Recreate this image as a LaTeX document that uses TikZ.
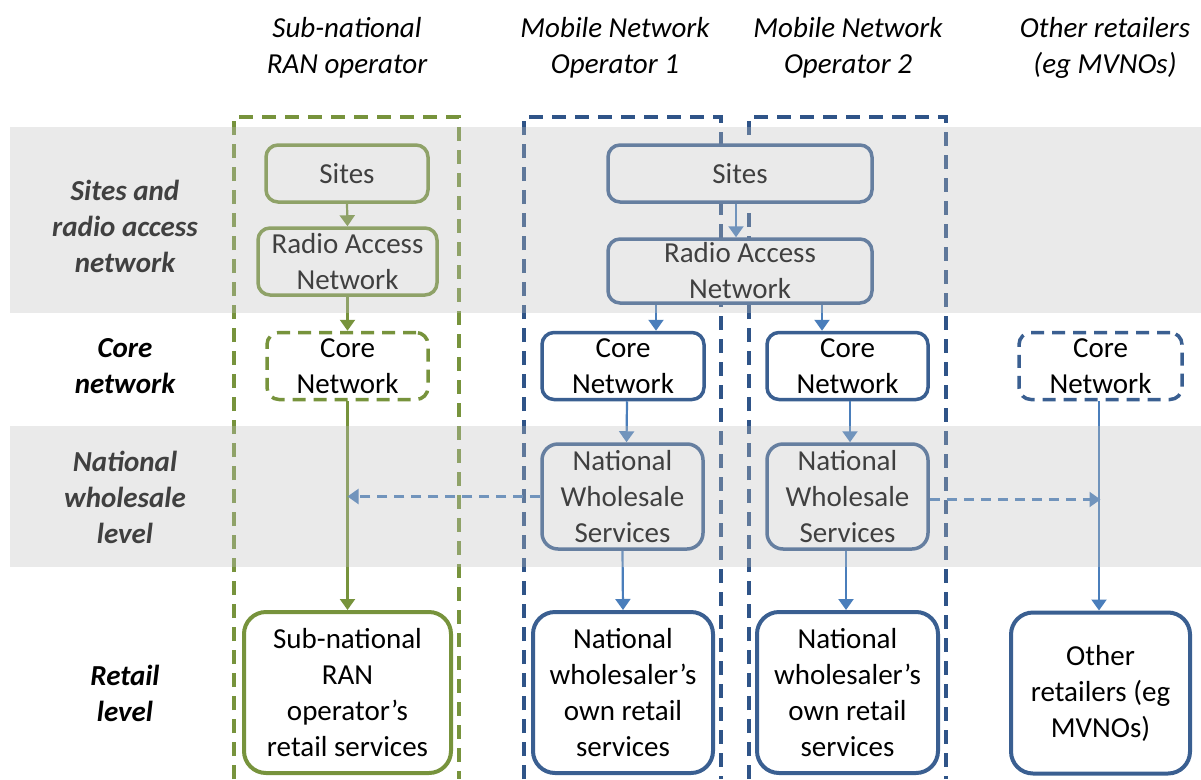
\documentclass[tikz,border=0pt]{standalone}
\usepackage{fontspec}
\setmainfont{Carlito}
\usetikzlibrary{arrows.meta}
\definecolor{grn}{HTML}{77933C}
\definecolor{cblue}{HTML}{2F5488}
\definecolor{bblue}{HTML}{3A5F91}
\definecolor{ablue}{HTML}{4A7EBB}
\definecolor{bandgrey}{RGB}{192,192,192}
\begin{document}
\begin{tikzpicture}[x=1pt,y=-1pt,
  every node/.style={font=\fontsize{29}{36}\selectfont, align=center, inner sep=0pt},
  hdr/.style={font=\fontsize{29}{36}\selectfont\itshape},
  rowlab/.style={font=\fontsize{29}{36}\selectfont\bfseries\itshape},
  coldash/.style={line width=3.5pt, dash pattern=on 14pt off 9pt},
  gbox/.style={draw=grn, fill=white, line width=3.5pt, rounded corners=12pt},
  bbox/.style={draw=bblue, fill=white, line width=3.5pt, rounded corners=12pt},
  retail/.style={line width=4pt, rounded corners=22pt, minimum height=161pt},
  dbox/.style={dash pattern=on 13pt off 8pt},
  garr/.style={draw=grn, line width=2.2pt, -{Triangle[width=15pt,length=11pt]}},
  barr/.style={draw=ablue, line width=2.2pt, -{Triangle[width=15pt,length=11pt]}},
  darr/.style={draw=ablue, line width=2.2pt, dash pattern=on 10pt off 7pt, -{Triangle[width=15pt,length=11pt]}}
]
\useasboundingbox (0,0) rectangle (1201,779);

% headers
\node[hdr] (h1) at (347,48) {Sub-national\\RAN operator};
\node[hdr] (h2) at (615,48) {Mobile Network\\Operator 1};
\node[hdr] (h3) at (848,48) {Mobile Network\\Operator 2};
\node[hdr] (h4) at (1105,48) {Other retailers\\(eg MVNOs)};

% row labels
\node[rowlab] (r1) at (125,226) {Sites and\\radio access\\network};
\node[rowlab] (r2) at (125,366) {Core\\network};
\node[rowlab] (r3) at (125,497) {National\\wholesale\\level};
\node[rowlab] (r4) at (125,693) {Retail\\level};

% column frames
\draw[coldash, draw=grn] (234,779) -- (234,117) -- (459,117) -- (459,779);
\draw[coldash, draw=cblue] (524,779) -- (524,117) -- (721,117) -- (721,779);
\draw[coldash, draw=cblue] (749,779) -- (749,117) -- (946,117) -- (946,779);

% green column
\node[gbox, minimum width=162pt, minimum height=57pt] (gs) at (347,173.5) {Sites};
\node[gbox, minimum width=179pt, minimum height=67pt] (gr) at (347.5,261.5) {Radio Access\\Network};
\node[gbox, dbox, minimum width=161pt, minimum height=67pt] (gc) at (347.5,366) {Core\\Network};
\node[gbox, retail, minimum width=207pt] (gt) at (347.5,692.5) {Sub-national\\RAN\\operator’s\\retail services};

% MNO shared
\node[bbox, minimum width=264pt, minimum height=57pt] (ms) at (740,173.5) {Sites};
\node[bbox, minimum width=264pt, minimum height=64pt] (mr) at (740,271) {Radio Access\\Network};

% cores
\node[bbox, minimum width=162pt, minimum height=67pt] (c1) at (623,366) {Core\\Network};
\node[bbox, minimum width=161pt, minimum height=67pt] (c2) at (847.5,366) {Core\\Network};
\node[bbox, dbox, minimum width=163pt, minimum height=67pt] (c3) at (1100.5,366) {Core\\Network};

% national wholesale
\node[bbox, minimum width=161pt, minimum height=105pt, rounded corners=16pt] (n1) at (622.5,496.5) {National\\Wholesale\\Services};
\node[bbox, minimum width=161pt, minimum height=105pt, rounded corners=16pt] (n2) at (847.5,496.5) {National\\Wholesale\\Services};

% retail
\node[bbox, retail, minimum width=180pt] (t1) at (623,692.5) {National\\wholesaler’s\\own retail\\services};
\node[bbox, retail, minimum width=181pt] (t2) at (847.5,692.5) {National\\wholesaler’s\\own retail\\services};
\node[bbox, retail, minimum width=179pt] (t3) at (1100.5,693) {Other\\retailers (eg\\MVNOs)};

% green arrows
\draw[garr] (gs.south) -- (gr.north);
\draw[garr] (gr.south) -- (gc.north);
\draw[garr] (gc.south) -- (gt.north);

% blue arrows
\draw[barr] ([xshift=-4pt]ms.south) -- ([xshift=-4pt]mr.north);
\draw[barr] ([xshift=-84pt]mr.south) -- ([xshift=33pt]c1.north);
\draw[barr] ([xshift=82pt]mr.south) -- ([xshift=-25.5pt]c2.north);
\draw[barr] ([xshift=4pt]c1.south) -- ([xshift=4pt]n1.north);
\draw[barr] ([xshift=2.5pt]c2.south) -- ([xshift=2.5pt]n2.north);
\draw[barr] (n1.south) -- (t1.north);
\draw[barr] ([xshift=-1.5pt]n2.south) -- ([xshift=-1.5pt]t2.north);
\draw[barr] ([xshift=-1.5pt]c3.south) -- ([xshift=-1.5pt]t3.north);

% dashed arrows
\draw[darr] ([yshift=-3pt]n2.east) -- ([yshift=-3pt]n2.east -| c3.south);
\draw[darr] (n1.west) -- (n1.west -| gc.south);

% translucent bands
\fill[bandgrey, opacity=0.333] (10,127) rectangle (1201,313);
\fill[bandgrey, opacity=0.333] (10,426) rectangle (1201,567);
\end{tikzpicture}
\end{document}
